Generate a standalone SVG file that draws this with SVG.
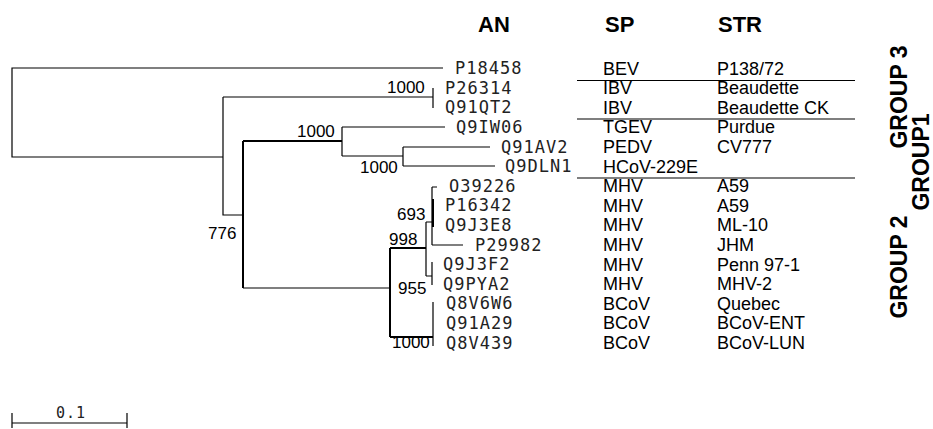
<svg xmlns="http://www.w3.org/2000/svg" width="933" height="429" viewBox="0 0 933 429">
<style>
.bg{fill:#fff}
.ln{fill:none;stroke:#000;stroke-width:1.2}
.tk{fill:none;stroke:#000;stroke-width:2}
.tip{font-family:"DejaVu Sans Mono","Liberation Mono",monospace;font-size:17px;letter-spacing:1px;fill:#222}
.bs{font-family:"Liberation Sans",Arial,sans-serif;font-size:17px;fill:#000}
.tb{font-family:"Liberation Sans",Arial,sans-serif;font-size:18px;fill:#000}
.hd{font-family:"Liberation Sans",Arial,sans-serif;font-size:22px;font-weight:bold;fill:#000}
.gp{font-family:"Liberation Sans",Arial,sans-serif;font-size:23px;font-weight:bold;fill:#000;text-anchor:middle}
</style>
<rect class="bg" x="0" y="0" width="933" height="429"/>
<g id="headers">
<text class="hd" x="478" y="32">AN</text>
<text class="hd" x="605" y="32">SP</text>
<text class="hd" x="718" y="32">STR</text>
</g>
<g id="connectors">
<path class="ln" d="M443,68 H12 V157 H223 M223,97 V215 H243 M223,97 H433 M433,88 V108"/>
<path class="tk" d="M243,141 V288 M243,141 H342"/>
<path class="ln" d="M342,127 V156 M342,127 H445 M342,156 H403 M403,147 V166 M403,147 H490 M403,166 H495"/>
<path class="ln" d="M243,288 H390"/>
<path class="tk" d="M390,248 V337 M390,248 H426 M390,337 H433"/>
<path class="ln" d="M433,302 V346 M426,222 V276 M426,222 H432 M426,276 H432 M432,187 V245 M432,187 H437 M432,245 H463 M432,262 V285"/>
<path class="tk" d="M433,199 V227"/>
</g>
<g id="bootstrap">
<text class="bs" x="387" y="93">1000</text>
<text class="bs" x="297" y="137">1000</text>
<text class="bs" x="360" y="173">1000</text>
<text class="bs" x="208" y="239">776</text>
<text class="bs" x="397" y="220">693</text>
<text class="bs" x="389" y="245">998</text>
<text class="bs" x="398" y="294">955</text>
<text class="bs" x="392" y="348">1000</text>
</g>
<g id="n-P18458"><text class="tip" x="455" y="74.2">P18458</text></g>
<g id="n-P26314"><text class="tip" x="445" y="93.8">P26314</text></g>
<g id="n-Q91QT2"><text class="tip" x="445" y="113.4">Q91QT2</text></g>
<g id="n-Q9IW06"><text class="tip" x="456" y="133">Q9IW06</text></g>
<g id="n-Q91AV2"><text class="tip" x="501" y="152.6">Q91AV2</text></g>
<g id="n-Q9DLN1"><text class="tip" x="505" y="172.2">Q9DLN1</text></g>
<g id="n-O39226"><text class="tip" x="449" y="191.8">O39226</text></g>
<g id="n-P16342"><text class="tip" x="445" y="211.4">P16342</text></g>
<g id="n-Q9J3E8"><text class="tip" x="445" y="231">Q9J3E8</text></g>
<g id="n-P29982"><text class="tip" x="475" y="250.6">P29982</text></g>
<g id="n-Q9J3F2"><text class="tip" x="443" y="270.2">Q9J3F2</text></g>
<g id="n-Q9PYA2"><text class="tip" x="443" y="289.8">Q9PYA2</text></g>
<g id="n-Q8V6W6"><text class="tip" x="446" y="309.4">Q8V6W6</text></g>
<g id="n-Q91A29"><text class="tip" x="446" y="329">Q91A29</text></g>
<g id="n-Q8V439"><text class="tip" x="446" y="348.6">Q8V439</text></g>
<g id="table">
<path class="ln" d="M577,80.5 H855 M577,119 H855 M577,178 H855"/>
<text class="tb" x="603" y="74.5">BEV</text><text class="tb" x="717" y="74.5">P138/72</text>
<text class="tb" x="603" y="94.1">IBV</text><text class="tb" x="717" y="94.1">Beaudette</text>
<text class="tb" x="603" y="113.7">IBV</text><text class="tb" x="717" y="113.7">Beaudette CK</text>
<text class="tb" x="603" y="133.3">TGEV</text><text class="tb" x="717" y="133.3">Purdue</text>
<text class="tb" x="603" y="152.9">PEDV</text><text class="tb" x="717" y="152.9">CV777</text>
<text class="tb" x="603" y="172.5">HCoV-229E</text>
<text class="tb" x="603" y="192.1">MHV</text><text class="tb" x="717" y="192.1">A59</text>
<text class="tb" x="603" y="211.7">MHV</text><text class="tb" x="717" y="211.7">A59</text>
<text class="tb" x="603" y="231.3">MHV</text><text class="tb" x="717" y="231.3">ML-10</text>
<text class="tb" x="603" y="250.9">MHV</text><text class="tb" x="717" y="250.9">JHM</text>
<text class="tb" x="603" y="270.5">MHV</text><text class="tb" x="717" y="270.5">Penn 97-1</text>
<text class="tb" x="603" y="290.1">MHV</text><text class="tb" x="717" y="290.1">MHV-2</text>
<text class="tb" x="603" y="309.7">BCoV</text><text class="tb" x="717" y="309.7">Quebec</text>
<text class="tb" x="603" y="329.3">BCoV</text><text class="tb" x="717" y="329.3">BCoV-ENT</text>
<text class="tb" x="603" y="348.9">BCoV</text><text class="tb" x="717" y="348.9">BCoV-LUN</text>
</g>
<g id="groups">
<text class="gp" transform="translate(907,97) rotate(-90)">GROUP 3</text>
<text class="gp" transform="translate(929,162) rotate(-90)">GROUP1</text>
<text class="gp" transform="translate(907,267) rotate(-90)">GROUP 2</text>
</g>
<g id="scalebar">
<path class="ln" d="M12,423 H127 M12,413 V428 M127,413 V428"/>
<text class="tip" x="71" y="418" text-anchor="middle" style="font-size:15px">0.1</text>
</g>
</svg>
